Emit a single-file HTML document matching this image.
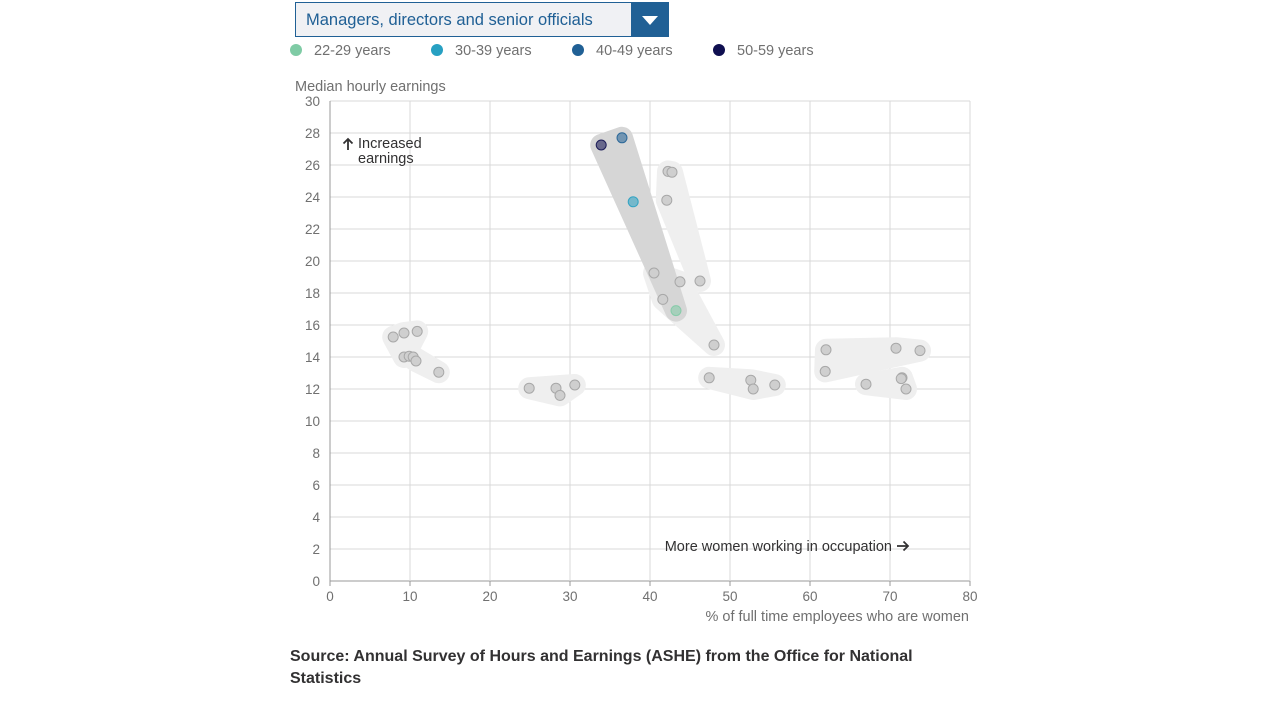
<!DOCTYPE html>
<html><head><meta charset="utf-8">
<style>
body{margin:0;width:1280px;height:720px;background:#fff;font-family:"Liberation Sans",sans-serif;position:relative;overflow:hidden}
#dd{position:absolute;left:295px;top:2px;width:372px;height:33px;border:1px solid #206095;background:#f0f1f4;}
#dd span{position:absolute;left:10px;top:8px;font-size:16.5px;color:#206095}
#dd .arr{position:absolute;right:0;top:0;width:37px;height:33px;background:#206095}
.leg{position:absolute;top:43px;font-size:14.5px;color:#707070}
.leg i{display:inline-block;width:12px;height:12px;border-radius:50%;margin-right:12px;vertical-align:-1px}
#src{position:absolute;left:290px;top:646px;width:680px;font-size:16px;font-weight:bold;color:#323132;line-height:22px}
</style></head><body>
<div id="dd"><span>Managers, directors and senior officials</span><div class="arr"><svg width="37" height="33"><polygon points="11,13 27,13 19,22" fill="#fff"/></svg></div></div>
<div class="leg" style="left:290px"><i style="background:#7fcba5"></i>22-29 years</div>
<div class="leg" style="left:431px"><i style="background:#27a0c2"></i>30-39 years</div>
<div class="leg" style="left:572px"><i style="background:#206095"></i>40-49 years</div>
<div class="leg" style="left:713px"><i style="background:#0f0f50"></i>50-59 years</div>
<svg id="chart" width="1280" height="640" style="position:absolute;left:0;top:0"></svg>
<div id="src">Source: Annual Survey of Hours and Earnings (ASHE) from the Office for National Statistics</div>
<script>
const groupNames=["managers","g2","g3","g4","g5","g6","g7","g8","g9"];
const highlighted=[true,false,false,false,false,false,false,false,false];
const pctWomen=[
[43.25,37.9,36.5,33.9],
[42.1,42.25,42.75,46.25],
[40.5,43.75,41.6,48],
[7.9,9.25,10.9,9.25],
[9.9,10.4,10.75,13.6],
[24.9,28.25,28.75,30.6],
[47.4,52.6,52.9,55.6],
[62,70.75,73.75,61.9],
[67,71.5,71.4,72]];
const earnings=[
[16.9,23.7,27.7,27.25],
[23.8,25.6,25.55,18.75],
[19.25,18.7,17.6,14.75],
[15.25,15.5,15.6,14.0],
[14.05,14.0,13.75,13.05],
[12.05,12.05,11.6,12.25],
[12.7,12.55,12.0,12.25],
[14.45,14.55,14.4,13.1],
[12.3,12.7,12.65,12.0]];
const ageColors=["#7fcba5","#27a0c2","#206095","#0f0f50"];
const xTicks=[0,10,20,30,40,50,60,70,80];
const yTicks=[0,2,4,6,8,10,12,14,16,18,20,22,24,26,28,30];
const NS="http://www.w3.org/2000/svg";
const svg=document.getElementById('chart');
const L=330,R=970,T=101,B=581;
const X=v=>L+(v/80)*(R-L), Y=v=>B-(v/30)*(B-T);
function mk(t,a,p){const e=document.createElementNS(NS,t);for(const k in a)e.setAttribute(k,a[k]);(p||svg).appendChild(e);return e;}
yTicks.forEach(v=>{const l=mk('line',{x1:L,x2:R,y1:Y(v),y2:Y(v),stroke:v===0?'#999':'#d9d9d9','stroke-width':1});


const t=mk('text',{x:L-10,y:Y(v)+5,'text-anchor':'end','font-size':13.5,fill:'#707070'});t.textContent=v;

});
xTicks.forEach(v=>{const l=mk('line',{x1:X(v),x2:X(v),y1:T,y2:B,stroke:v===0?'#999':'#d9d9d9'});


mk('line',{x1:X(v),x2:X(v),y1:B,y2:B+5,stroke:'#999'});
const t=mk('text',{x:X(v),y:B+20,'text-anchor':'middle','font-size':13.5,fill:'#707070'});t.textContent=v;

});
function hull(pts){pts=pts.slice().sort((a,b)=>a[0]-b[0]||a[1]-b[1]);const c=(o,a,b)=>(a[0]-o[0])*(b[1]-o[1])-(a[1]-o[1])*(b[0]-o[0]);
const lo=[],up=[];for(const p of pts){while(lo.length>=2&&c(lo[lo.length-2],lo[lo.length-1],p)<=0)lo.pop();lo.push(p);}
for(const p of pts.slice().reverse()){while(up.length>=2&&c(up[up.length-2],up[up.length-1],p)<=0)up.pop();up.push(p);}
up.pop();lo.pop();return lo.concat(up);}
const order=[...groupNames.keys()].sort((a,b)=>highlighted[a]-highlighted[b]);
order.forEach(g=>{const pts=pctWomen[g].map((v,i)=>[X(v),Y(earnings[g][i])]);
const h=hull(pts);const col=highlighted[g]?'#d6d6d6':'#efefef';
const p=mk('polygon',{points:h.map(q=>q.join(',')).join(' '),fill:col,stroke:col,'stroke-width':22,'stroke-linejoin':'round'});

});
order.forEach(g=>{pctWomen[g].forEach((v,i)=>{const hl=highlighted[g];
const c=mk('circle',{cx:X(v),cy:Y(earnings[g][i]),r:5,fill:hl?ageColors[i]:'#cfcfcf','fill-opacity':hl?0.55:1,stroke:hl?ageColors[i]:'#a8a8a8','stroke-opacity':hl?0.9:1,'stroke-width':1});

});});
function txt(x,y,s,a,name,fs,col){const t=mk('text',{x:x,y:y,'font-size':fs||14.5,fill:col||'#707070','text-anchor':a||'start'});t.textContent=s;

}
txt(295,91,'Median hourly earnings','start','y-axis-title');
txt(969,621,'% of full time employees who are women','end','x-axis-title');
txt(358,148,'Increased','start','annotation-increased-earnings',14.5,'#323132');
txt(358,163,'earnings','start','annotation-increased-earnings-2',14.5,'#323132');
mk('path',{d:'M348,150 L348,139 M343.5,143.5 L348,139 L352.5,143.5',stroke:'#323132','stroke-width':1.8,fill:'none'});
txt(892,551,'More women working in occupation','end','annotation-more-women',14.5,'#323132');
mk('path',{d:'M897,546 L908,546 M903.5,541.5 L908,546 L903.5,550.5',stroke:'#323132','stroke-width':1.8,fill:'none'});
</script>
</body></html>
